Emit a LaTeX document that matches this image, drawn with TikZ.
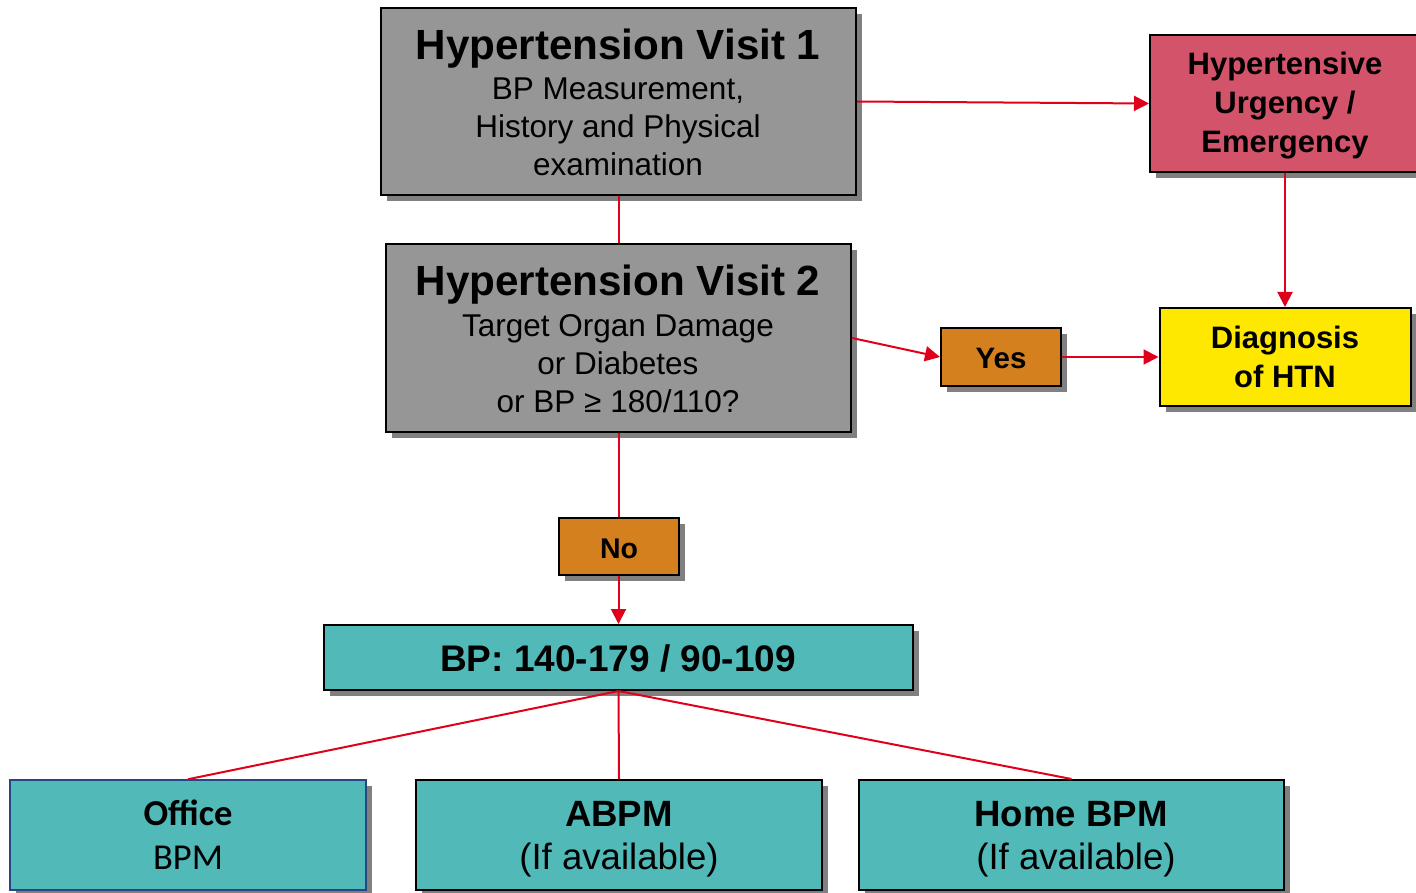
\documentclass[tikz,border=0pt]{standalone}
\usepackage{fontspec}
\setmainfont{Liberation Sans}
\newfontfamily\calibrifont{Carlito}
\usetikzlibrary{shadows,arrows.meta}
\definecolor{boxgray}{RGB}{150,150,150}
\definecolor{shgray}{RGB}{128,128,128}
\definecolor{urgred}{RGB}{211,84,106}
\definecolor{diagyel}{RGB}{255,232,0}
\definecolor{orng}{RGB}{212,128,30}
\definecolor{tealbox}{RGB}{82,185,185}
\definecolor{arrowred}{RGB}{224,0,27}
\definecolor{officeblue}{RGB}{40,70,130}
\tikzset{
  bx/.style={draw=black, line width=2pt, inner sep=0pt,
    drop shadow={shadow xshift=6pt, shadow yshift=-6pt, opacity=1, fill=shgray}},
  conn/.style={draw=arrowred, line width=2pt},
  arr/.style={conn, -{Triangle[length=15pt,width=15pt]}},
  txt/.style={anchor=base, inner sep=0pt},
  ttl/.style={txt, font=\fontsize{42.2}{42}\selectfont\bfseries},
  sub/.style={txt, font=\fontsize{31.5}{31.5}\selectfont},
  mid/.style={txt, font=\fontsize{31}{31}\selectfont\bfseries},
  big/.style={txt, font=\fontsize{36.6}{36.6}\selectfont\bfseries},
  bigr/.style={txt, font=\fontsize{36.6}{36.6}\selectfont},
}
\begin{document}
\begin{tikzpicture}[x=1pt,y=-1pt]
\useasboundingbox (0,0) rectangle (1416,893);
\fill[white] (0,0) rectangle (1416,893);

% boxes
\node[bx, fill=boxgray, minimum width=475pt, minimum height=187pt] (v1) at (618.5,101.5) {};
\node[bx, fill=boxgray, minimum width=465pt, minimum height=188pt] (v2) at (618.5,338) {};
\node[bx, fill=urgred, minimum width=270pt, minimum height=137pt] (urg) at (1285,103.5) {};
\node[bx, fill=diagyel, minimum width=251pt, minimum height=98pt] (diag) at (1285,357) {};
\node[bx, fill=orng, minimum width=120pt, minimum height=58pt] (yes) at (1001,357) {};
\node[bx, fill=orng, minimum width=120pt, minimum height=57pt] (no) at (618.5,546.5) {};
\node[bx, fill=tealbox, minimum width=589pt, minimum height=65pt] (bp) at (618.5,657.5) {};
\node[bx, draw=officeblue, line width=1.5pt, fill=tealbox, minimum width=356pt, minimum height=110pt] (office) at (188,835) {};
\node[bx, fill=tealbox, minimum width=406pt, minimum height=110pt] (abpm) at (619,835) {};
\node[bx, fill=tealbox, minimum width=425pt, minimum height=110pt] (home) at (1071.5,835) {};

% texts
\node[ttl] (v1a) at (618,60) {Hypertension Visit 1};
\node[sub] (v1b) at (618,100) {BP Measurement,};
\node[sub] (v1c) at (618,138) {History and Physical};
\node[sub] (v1d) at (618,176) {examination};

\node[ttl] (v2a) at (618,296) {Hypertension Visit 2};
\node[sub] (v2b) at (618,336) {Target Organ Damage};
\node[sub] (v2c) at (618,374) {or Diabetes};
\node[sub] (v2d) at (618,412) {or BP ≥ 180/110?};

\node[mid] (urga) at (1285,75) {Hypertensive};
\node[mid] (urgb) at (1285,114) {Urgency /};
\node[mid] (urgc) at (1285,153) {Emergency};

\node[mid] (diaga) at (1285,348) {Diagnosis};
\node[mid] (diagb) at (1285,387) {of HTN};

\node[txt, font=\fontsize{29.5}{29.5}\selectfont\bfseries] (yest) at (1001,368) {Yes};
\node[txt, font=\fontsize{28.5}{28.5}\selectfont\bfseries] (not) at (619,558) {No};

\node[txt, font=\fontsize{37}{37}\selectfont\bfseries] (bpt) at (618,671) {BP: 140-179 / 90-109};

\node[txt, font=\fontsize{36.5}{36.5}\selectfont\calibrifont\bfseries] (offa) at (188,825) {Office};
\node[txt, font=\fontsize{36.5}{36.5}\selectfont\calibrifont] (offb) at (188,869) {BPM};

\node[big] (abpma) at (619,826) {ABPM};
\node[bigr] (abpmb) at (619,869) {(If available)};
\node[big] (homea) at (1071,826) {Home BPM};
\node[bigr] (homeb) at (1076,869) {(If available)};

% connectors
\draw[arr] (v1.east) -- (urg.west);
\draw[conn] (v1.south) -- (v2.north);
\draw[arr] (v2.east) -- (yes.west);
\draw[arr] (yes.east) -- (diag.west);
\draw[arr] (urg.south) -- (diag.north);
\draw[conn] (v2.south) -- (no.north);
\draw[arr] (no.south) -- (bp.north);
\draw[conn] (bp.south) -- (office.north);
\draw[conn] (bp.south) -- (abpm.north);
\draw[conn] (bp.south) -- (home.north);
\end{tikzpicture}
\end{document}
